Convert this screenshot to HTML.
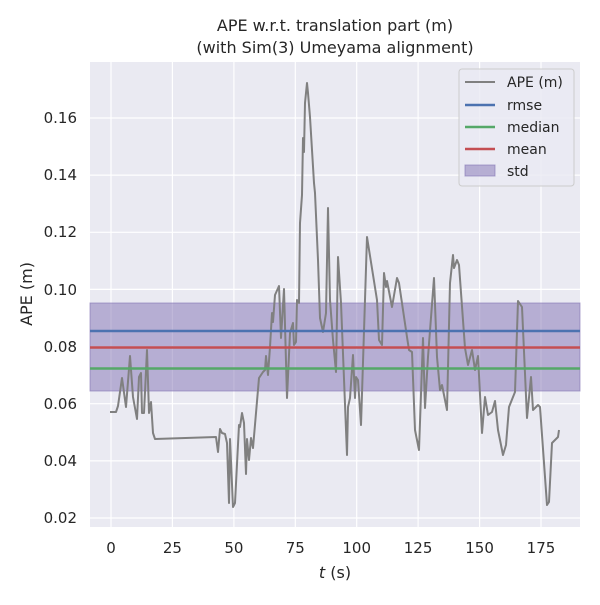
<!DOCTYPE html>
<html><head><style>body{margin:0;background:#fff}</style></head><body>
<svg width="600" height="600" xmlns="http://www.w3.org/2000/svg" font-family="'DejaVu Sans',sans-serif">
<rect width="600" height="600" fill="#fff"/>
<rect x="90" y="62" width="490" height="465" fill="#eaeaf2"/>
<g stroke="#fff" stroke-width="1.2">
<line x1="111" y1="62" x2="111" y2="527"/><line x1="172.4" y1="62" x2="172.4" y2="527"/><line x1="233.9" y1="62" x2="233.9" y2="527"/><line x1="295.3" y1="62" x2="295.3" y2="527"/><line x1="356.7" y1="62" x2="356.7" y2="527"/><line x1="418.1" y1="62" x2="418.1" y2="527"/><line x1="479.6" y1="62" x2="479.6" y2="527"/><line x1="541" y1="62" x2="541" y2="527"/>
<line x1="90" y1="518" x2="580" y2="518"/><line x1="90" y1="460.9" x2="580" y2="460.9"/><line x1="90" y1="403.7" x2="580" y2="403.7"/><line x1="90" y1="346.6" x2="580" y2="346.6"/><line x1="90" y1="289.4" x2="580" y2="289.4"/><line x1="90" y1="232.3" x2="580" y2="232.3"/><line x1="90" y1="175.1" x2="580" y2="175.1"/><line x1="90" y1="118" x2="580" y2="118"/>
</g>
<rect x="90" y="303" width="490" height="88" fill="#8172b3" fill-opacity="0.5" stroke="#8172b3" stroke-opacity="0.6"/>
<polyline fill="none" stroke="#808080" stroke-width="2" stroke-linejoin="round" points="110,412 116,412 118,406 122,378 126,407 130,356 133,397 137,419 139,377 141,373 142,413 144,413 147,350 149,413 151,402 153,433 155,439 216,437 218,452 220,429 222,433 225,434 227,443 229,503 230,439 233,507 235,503 239,425 240,427 242,413 244,423 246,474 247,439 249,460 251,438 253,448 259,378 263,372 265,370 266,356 268,375 270,347 272,313 273,322 275,295 279,286 281,338 284,289 287,398 290,333 293,323 294,345 296,342 297,300 299,303 300,223 302,195 303,138 304,152 305,103 307,83 308,93 310,117 314,183 315,193 318,260 320,318 323,332 326,313 328,208 330,300 333,340 336,372 338,257 341,303 347,455 348,407 350,398 353,355 355,398 356,377 358,380 361,425 367,237 377,300 379,340 382,345 384,273 386,287 387,281 392,307 397,278 399,283 407,337 409,350 412,352 415,430 419,450 423,338 425,408 428,357 434,278 437,357 440,390 442,385 447,410 450,283 453,255 454,268 457,260 459,265 465,348 468,365 472,350 475,370 478,356 482,433 485,397 488,415 492,412 495,401 498,430 503,455 506,445 509,407 515,392 518,301 522,307 527,418 531,377 533,410 538,405 540,407 547,505 549,502 552,443 558,437 559,430"/>
<line x1="90" y1="331" x2="580" y2="331" stroke="#4c72b0" stroke-width="2.5"/>
<line x1="90" y1="347.5" x2="580" y2="347.5" stroke="#c44e52" stroke-width="2.5"/>
<line x1="90" y1="368.5" x2="580" y2="368.5" stroke="#55a868" stroke-width="2.5"/>
<g font-size="15" fill="#262626" text-anchor="end">
<text x="77" y="523">0.02</text><text x="77" y="466">0.04</text><text x="77" y="409">0.06</text><text x="77" y="352">0.08</text><text x="77" y="295">0.10</text><text x="77" y="237">0.12</text><text x="77" y="180">0.14</text><text x="77" y="123">0.16</text>
</g>
<g font-size="15" fill="#262626" text-anchor="middle">
<text x="111" y="553">0</text><text x="172.4" y="553">25</text><text x="233.9" y="553">50</text><text x="295.3" y="553">75</text><text x="356.7" y="553">100</text><text x="418.1" y="553">125</text><text x="479.6" y="553">150</text><text x="541" y="553">175</text>
<text x="335" y="578" font-size="16"><tspan font-style="italic">t</tspan> (s)</text>
<text x="335" y="31" font-size="16">APE w.r.t. translation part (m)</text>
<text x="335" y="53" font-size="16">(with Sim(3) Umeyama alignment)</text>
<text transform="translate(32,294) rotate(-90)" font-size="16">APE (m)</text>
</g>
<rect x="459" y="69" width="115" height="117" rx="3" fill="#eaeaf2" fill-opacity="0.8" stroke="#ccc"/>
<line x1="465" y1="82" x2="495" y2="82" stroke="#808080" stroke-width="2"/>
<line x1="465" y1="105" x2="495" y2="105" stroke="#4c72b0" stroke-width="2.5"/>
<line x1="465" y1="127" x2="495" y2="127" stroke="#55a868" stroke-width="2.5"/>
<line x1="465" y1="149" x2="495" y2="149" stroke="#c44e52" stroke-width="2.5"/>
<rect x="465" y="165" width="30" height="11" fill="#8172b3" fill-opacity="0.5" stroke="#8172b3" stroke-opacity="0.6"/>
<g font-size="14" fill="#262626">
<text x="507" y="87">APE (m)</text><text x="507" y="110">rmse</text><text x="507" y="132">median</text><text x="507" y="154">mean</text><text x="507" y="176">std</text>
</g>
</svg>
</body></html>
